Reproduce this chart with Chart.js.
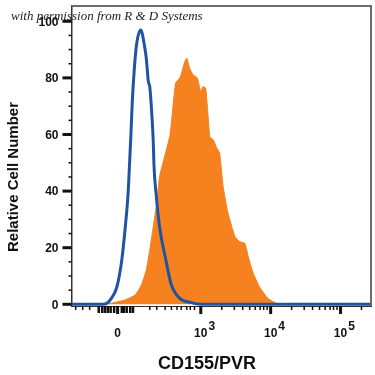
<!DOCTYPE html>
<html>
<head>
<meta charset="utf-8">
<script src="https://cdn.jsdelivr.net/npm/chart.js@4"></script>
<style>
  html, body { margin: 0; padding: 0; background: #fff; }
  #wrap { width: 375px; height: 375px; }
</style>
</head>
<body>
<div id="wrap"><canvas id="histogram" width="375" height="375"></canvas></div>
<script>
// x values are display units of the biexponential axis: 10^3 = 3, 10^4 = 4, 10^5 = 5

// ─── Isotype control (blue outline) ──────────────────────────────────────────
const isotypeX = [1.15, 1.55, 1.63, 1.72, 1.80, 1.87, 1.92, 1.96, 1.98, 2.00, 2.02, 2.05, 2.08, 2.14,
                  2.20, 2.22, 2.25, 2.27, 2.30, 2.32, 2.33, 2.36, 2.41, 2.50, 2.58, 2.70, 2.87, 2.96, 3.06, 5.44];
const isotypeY = [0, 0, 0.1, 2.1, 6.2, 15.7, 27.4, 39.2, 49.2, 59.8, 71.6, 83.5, 91.6, 96.9,
                  90.5, 87.0, 78.7, 76.9, 66.9, 57.5, 49.2, 39.2, 27.4, 15.7, 6.8, 2.1, 0.6, 0.1, 0, 0];

// ─── CD155/PVR stained (orange fill) ─────────────────────────────────────────
const cd155X = [1.15, 1.50, 1.58, 1.72, 1.91, 2.06, 2.15, 2.22, 2.27, 2.32, 2.37, 2.41, 2.47, 2.56, 2.60,
                2.64, 2.70, 2.73, 2.77, 2.80, 2.84, 2.89, 2.95, 3.00, 3.03, 3.07, 3.10, 3.13, 3.18, 3.22,
                3.27, 3.32, 3.39, 3.49, 3.56, 3.63, 3.68, 3.75, 3.84, 3.96, 4.08, 4.17, 5.44];
const cd155Y = [0, 0, 0.1, 0.4, 1.5, 3.3, 6.8, 12.1, 19.2, 27.4, 35.7, 45.1, 51.0, 59.8, 69.4,
                78.2, 80.0, 82.2, 85.7, 86.9, 83.5, 81.0, 80.0, 75.1, 76.9, 76.4, 68.1, 59.2, 58.1, 55.7,
                53.4, 41.6, 32.2, 23.9, 22.1, 21.6, 16.8, 11.0, 6.2, 2.1, 0.35, 0, 0];

// ─── Ticks ───────────────────────────────────────────────────────────────────
const yMajorTicks = [0, 20, 40, 60, 80, 100];
const yMinorTicks = [5, 10, 15, 25, 30, 35, 45, 50, 55, 65, 70, 75, 85, 90, 95];

const xMajorTicks  = [1.81, 3, 4, 5];
const xMajorBase   = ["0", "10", "10", "10"];
const xMajorExp    = ["", "3", "4", "5"];
const xClusterTicks = [1.54, 1.59, 1.63, 1.67, 1.71, 1.76, 1.87, 1.90, 1.94, 1.99, 2.03];
const xMinorTicks  = [1.21, 1.31, 1.41, 2.27, 2.37, 2.49, 2.58, 2.66, 2.72, 2.80, 2.85, 2.91,
                      3.30, 3.48, 3.60, 3.70, 3.78, 3.85, 3.90, 3.95,
                      4.30, 4.48, 4.60, 4.70, 4.78, 4.85, 4.90, 4.95, 5.30];

const COLOR_ORANGE = "#f5821f";
const COLOR_BLUE   = "#2054a2";
const FONT_BOLD    = "'Liberation Sans', Arial, sans-serif";

// ─── Frame, ticks and text drawn against the scales ─────────────────────────
const decorations = {
  id: "decorations",
  afterDraw(chart) {
    const { ctx, chartArea: a, scales: { x, y } } = chart;
    ctx.save();

    // top and right frame
    ctx.strokeStyle = "#6b6b6b";
    ctx.lineWidth = 2;
    ctx.beginPath();
    ctx.moveTo(a.left, a.top);
    ctx.lineTo(a.right, a.top);
    ctx.lineTo(a.right, a.bottom);
    ctx.stroke();

    ctx.strokeStyle = "#111";
    const yTick = (v, len, w) => {
      const py = y.getPixelForValue(v);
      ctx.lineWidth = w;
      ctx.beginPath(); ctx.moveTo(a.left - len, py); ctx.lineTo(a.left, py); ctx.stroke();
    };
    const xTick = (v, len, w) => {
      const px = x.getPixelForValue(v);
      ctx.lineWidth = w;
      ctx.beginPath(); ctx.moveTo(px, a.bottom); ctx.lineTo(px, a.bottom + len); ctx.stroke();
    };
    yMajorTicks.forEach(v => yTick(v, 9, 3));
    yMinorTicks.forEach(v => yTick(v, 3, 1.5));
    xMajorTicks.forEach(v => xTick(v, 8, 3));
    xClusterTicks.forEach(v => xTick(v, 7, 2.5));
    xMinorTicks.forEach(v => xTick(v, 4, 1.5));

    // tick labels
    ctx.fillStyle = "#111";
    ctx.font = "bold 12px " + FONT_BOLD;
    ctx.textAlign = "right";
    ctx.textBaseline = "middle";
    yMajorTicks.forEach(v => ctx.fillText(String(v), a.left - 13, y.getPixelForValue(v) + 1));

    xMajorTicks.forEach((v, i) => {
      const px = x.getPixelForValue(v);
      ctx.textAlign = "center";
      ctx.fillText(xMajorBase[i], px, 334);
      if (xMajorExp[i]) {
        const half = ctx.measureText(xMajorBase[i]).width / 2;
        ctx.textAlign = "left";
        ctx.fillText(xMajorExp[i], px + half + 1, 327);
      }
    });

    // axis titles
    ctx.textAlign = "center";
    ctx.font = "bold 18px " + FONT_BOLD;
    ctx.fillText("CD155/PVR", 207, 364);

    ctx.save();
    ctx.translate(14, 177);
    ctx.rotate(-Math.PI / 2);
    ctx.font = "bold 15px " + FONT_BOLD;
    ctx.fillText("Relative Cell Number", 0, 0);
    ctx.restore();

    // watermark
    ctx.textAlign = "left";
    ctx.font = "italic 13px 'Liberation Serif', serif";
    ctx.fillStyle = "#222";
    ctx.fillText("with permission from R & D Systems", 11, 17);

    ctx.restore();
  }
};

// ─── Chart ───────────────────────────────────────────────────────────────────
new Chart(document.getElementById("histogram"), {
  type: "line",
  data: {
    datasets: [
      {
        label: "Isotype control",
        data: isotypeX.map((v, i) => ({ x: v, y: isotypeY[i] })),
        borderColor: COLOR_BLUE,
        borderWidth: 3,
        fill: false,
        pointRadius: 0,
        cubicInterpolationMode: "monotone"
      },
      {
        label: "CD155/PVR",
        data: cd155X.map((v, i) => ({ x: v, y: cd155Y[i] })),
        borderColor: COLOR_ORANGE,
        backgroundColor: COLOR_ORANGE,
        borderWidth: 1,
        fill: "origin",
        pointRadius: 0,
        tension: 0.15
      }
    ]
  },
  options: {
    responsive: false,
    animation: false,
    layout: { padding: { top: 6, right: 4, left: 0, bottom: 0 } },
    plugins: { legend: { display: false }, tooltip: { enabled: false } },
    scales: {
      x: {
        type: "linear",
        min: 1.15,
        max: 5.436,
        grid: { display: false },
        ticks: { display: false },
        border: { color: "#333", width: 1 },
        afterFit: s => { s.height = 69; }
      },
      y: {
        min: -0.6,
        max: 105.4,
        grid: { display: false },
        ticks: { display: false },
        border: { color: "#333", width: 1.5 },
        afterFit: s => { s.width = 71.5; }
      }
    }
  },
  plugins: [decorations]
});
</script>
</body>
</html>
